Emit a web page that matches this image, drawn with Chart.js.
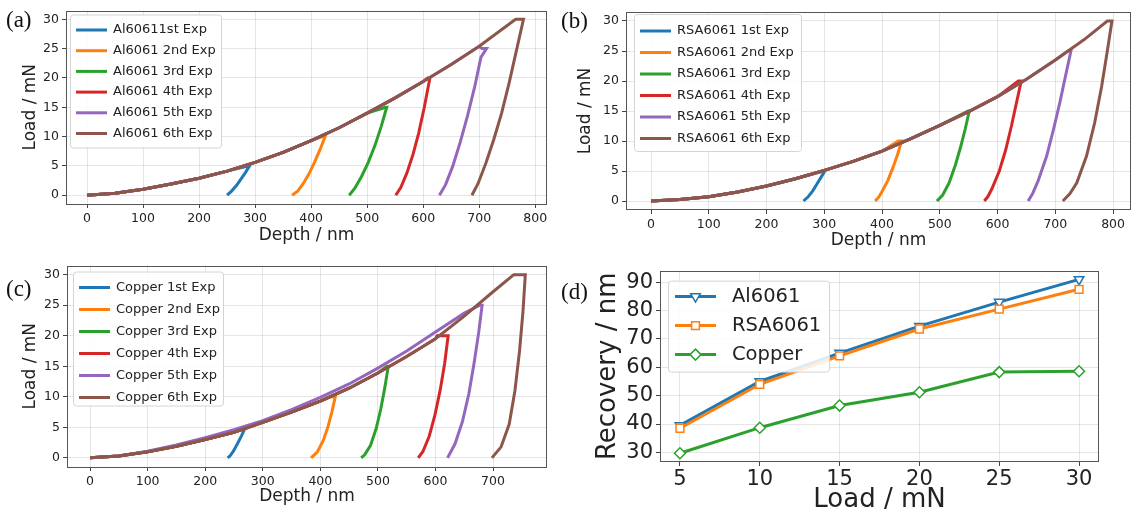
<!DOCTYPE html>
<html lang="en">
<head>
<meta charset="UTF-8" />
<title>Load-depth curves and recovery</title>
<script src="https://cdn.jsdelivr.net/npm/chart.js"></script>
<style>
  body { margin: 0; background: #fff; width: 1136px; height: 516px; position: relative; overflow: hidden; }
  .panel { position: absolute; }
  .tag { position: absolute; font-family: 'Liberation Serif', serif; font-size: 23px; line-height: 1; color: #111; }
</style>
</head>
<body>

<div class="panel" style="left:0;top:0;width:560px;height:255px"><canvas id="chartA"></canvas></div>
<div class="panel" style="left:568px;top:0;width:568px;height:255px"><canvas id="chartB"></canvas></div>
<div class="panel" style="left:0;top:255px;width:560px;height:261px"><canvas id="chartC"></canvas></div>
<div class="panel" style="left:568px;top:255px;width:568px;height:261px"><canvas id="chartD"></canvas></div>

<div class="tag" style="left:6px;top:8px">(a)</div>
<div class="tag" style="left:561px;top:9px">(b)</div>
<div class="tag" style="left:6px;top:277px">(c)</div>
<div class="tag" style="left:561px;top:280px">(d)</div>

<script>
  // (a) Al6061 - shared loading branch, then hold and unloading per experiment
  const aNames = ['Al60611st Exp', 'Al6061 2nd Exp', 'Al6061 3rd Exp', 'Al6061 4th Exp', 'Al6061 5th Exp', 'Al6061 6th Exp'];
  const aLoadDepth = [0, 50, 100, 150, 200, 250, 300, 350, 400, 450, 500, 550, 600, 650, 700, 765];
  const aLoadForce = [0, 0.35, 1.0, 1.9, 2.9, 4.1, 5.6, 7.3, 9.3, 11.5, 14.0, 16.6, 19.4, 22.3, 25.4, 30];
  const aPeak = [5, 10, 15, 20, 25, 30];
  const aHoldStart = [289, 420, 533, 608, 705, 765];
  const aUnloadDepth = [
    [290, 283, 275, 267, 258, 250],
    [425, 416, 406, 396, 386, 376, 366],
    [535, 525, 514, 502, 490, 478, 468],
    [612, 602, 592, 582, 571, 560, 551],
    [713, 703, 692, 679, 666, 653, 640, 629],
    [779, 766, 753, 740, 726, 712, 698, 687]
  ];
  const aUnloadForce = [
    [5, 3.9, 2.8, 1.7, 0.7, 0],
    [10, 7.8, 5.6, 3.6, 2.0, 0.7, 0],
    [15, 11.7, 8.5, 5.6, 3.2, 1.2, 0],
    [20, 15, 10.6, 7, 3.8, 1.3, 0],
    [25, 23.5, 18.5, 13.5, 9, 5, 1.8, 0],
    [30, 24.5, 19, 14, 9.5, 5.5, 2, 0]
  ];

  // (b) RSA6061
  const bNames = ['RSA6061 1st Exp', 'RSA6061 2nd Exp', 'RSA6061 3rd Exp', 'RSA6061 4th Exp', 'RSA6061 5th Exp', 'RSA6061 6th Exp'];
  const bLoadDepth = [0, 50, 100, 150, 200, 250, 300, 350, 400, 450, 500, 550, 600, 650, 700, 750, 790];
  const bLoadForce = [0, 0.25, 0.7, 1.5, 2.5, 3.7, 5.1, 6.6, 8.3, 10.4, 12.6, 14.9, 17.4, 20.3, 23.5, 26.9, 30];
  const bPeak = [5, 10, 15, 20, 25, 30];
  const bHoldStart = [299, 428, 549, 636, 722, 790];
  const bUnloadDepth = [
    [301, 294, 287, 280, 272, 264],
    [434, 427, 419, 410, 400, 394, 388],
    [551, 544, 536, 527, 516, 505, 495],
    [641, 633, 624, 614, 603, 590, 583, 577],
    [727, 718, 708, 697, 685, 670, 661, 653],
    [798, 790, 780, 768, 754, 737, 725, 713]
  ];
  const bUnloadForce = [
    [5, 3.9, 2.8, 1.7, 0.7, 0],
    [10, 7.8, 5.6, 3.4, 1.6, 0.6, 0],
    [15, 12, 9, 6, 3, 1, 0],
    [20, 16.5, 12.5, 8.5, 5, 2, 0.7, 0],
    [25, 21, 16.5, 12, 7.5, 3.3, 1.3, 0],
    [30, 25, 19, 13, 7.5, 3, 1.2, 0]
  ];

  // (c) Copper - the 5th run loads slightly above the others
  const cNames = ['Copper 1st Exp', 'Copper 2nd Exp', 'Copper 3rd Exp', 'Copper 4th Exp', 'Copper 5th Exp', 'Copper 6th Exp'];
  const cLoadDepth = [0, 50, 100, 150, 200, 250, 300, 350, 400, 450, 500, 550, 600, 650, 700, 736];
  const cLoadForce = [0, 0.3, 1.0, 1.9, 3.0, 4.2, 5.8, 7.5, 9.3, 11.4, 13.9, 16.6, 19.5, 23.2, 27.2, 30];
  const cUpperDepth = [0, 50, 100, 150, 200, 250, 300, 350, 400, 450, 500, 550, 600, 650];
  const cUpperForce = [0, 0.3, 1.1, 2.1, 3.3, 4.6, 6.1, 7.9, 9.9, 12.1, 14.7, 17.5, 20.6, 23.7];
  const cPeak = [5, 10, 15, 20, 25, 30];
  const cHoldStart = [268, 418, 516, 603, 677, 736];
  const cUnloadDepth = [
    [270, 263, 256, 249, 243, 239],
    [426, 420, 413, 405, 395, 384],
    [518, 512, 505, 497, 487, 477, 471],
    [622, 616, 608, 599, 589, 578, 570],
    [681, 675, 667, 658, 647, 634, 621],
    [756, 752, 746, 738, 728, 714, 698]
  ];
  const cUnloadForce = [
    [5, 3.6, 2.3, 1.1, 0.3, 0],
    [10, 7.5, 5, 2.8, 1, 0],
    [15, 11.5, 8, 4.8, 2, 0.5, 0],
    [20, 15.5, 11, 7, 3.5, 1, 0],
    [25, 20.5, 15.5, 10.5, 6, 2.3, 0],
    [30, 24, 17.5, 11, 5.5, 1.8, 0]
  ];

  // (d) recovery vs load
  const dLoad = [5, 10, 15, 20, 25, 30];
  const dAl6061 = [39.5, 55.0, 65.0, 74.5, 83.0, 91.0];
  const dRsa6061 = [38.5, 54.0, 64.0, 73.5, 80.5, 87.5];
  const dCopper = [29.7, 38.7, 46.5, 51.2, 58.3, 58.6];

  const tab = ['#1f77b4', '#ff7f0e', '#2ca02c', '#d62728', '#9467bd', '#8c564b'];

  Chart.defaults.font.family = '"DejaVu Sans", sans-serif';
  Chart.defaults.color = '#222';

  // box around the plot area, like matplotlib spines
  const frame = {
    id: 'frame',
    afterDatasetsDraw(chart) {
      const a = chart.chartArea, ctx = chart.ctx;
      ctx.save();
      ctx.strokeStyle = '#555';
      ctx.lineWidth = 1;
      ctx.strokeRect(Math.round(a.left) + 0.5, Math.round(a.top) + 0.5,
        Math.round(a.right - a.left) - 1, Math.round(a.bottom - a.top) - 1);
      ctx.restore();
    }
  };

  // legend box inside the plot area
  const boxLegend = {
    id: 'boxLegend',
    afterDatasetsDraw(chart, args, o) {
      const ctx = chart.ctx, a = chart.chartArea;
      const x = a.left + o.x, y = a.top + o.y;
      ctx.save();
      ctx.fillStyle = 'rgba(255,255,255,0.85)';
      ctx.strokeStyle = '#d4d4d4';
      ctx.lineWidth = 1;
      ctx.beginPath();
      if (ctx.roundRect) ctx.roundRect(x + 0.5, y + 0.5, o.w, o.h, 3); else ctx.rect(x + 0.5, y + 0.5, o.w, o.h);
      ctx.fill();
      ctx.stroke();
      ctx.font = o.size + 'px "DejaVu Sans"';
      ctx.textBaseline = 'middle';
      chart.data.datasets.forEach((ds, i) => {
        const cy = y + o.row0 + i * o.rowH;
        ctx.strokeStyle = ds.borderColor;
        ctx.lineWidth = ds.borderWidth;
        ctx.beginPath();
        ctx.moveTo(x + o.hx, cy);
        ctx.lineTo(x + o.hx + o.hl, cy);
        ctx.stroke();
        if (ds.pointRadius > 0 && Chart.helpers && Chart.helpers.drawPoint) {
          ctx.fillStyle = '#fff';
          ctx.strokeStyle = ds.borderColor;
          ctx.lineWidth = ds.pointBorderWidth;
          Chart.helpers.drawPoint(ctx, {
            pointStyle: ds.pointStyle, radius: ds.pointRadius,
            rotation: ds.pointRotation || 0, borderWidth: ds.pointBorderWidth
          }, x + o.hx + o.hl / 2, cy);
        }
        ctx.fillStyle = '#222';
        ctx.fillText(ds.label, x + o.tx, cy);
      });
      ctx.restore();
    }
  };

  function curveSets(names, loadDepth, loadForce, holdStart, peak, unD, unF, upper) {
    return names.map((name, k) => {
      const ld = upper && upper[k] ? upper[k][0] : loadDepth;
      const lf = upper && upper[k] ? upper[k][1] : loadForce;
      const pts = [];
      ld.forEach((d, i) => { if (d < holdStart[k]) pts.push({ x: d, y: lf[i] }); });
      pts.push({ x: holdStart[k], y: peak[k] });
      unD[k].forEach((d, i) => pts.push({ x: d, y: unF[k][i] }));
      return {
        label: name, data: pts, showLine: true, fill: false,
        borderColor: tab[k], backgroundColor: tab[k], borderWidth: 3,
        pointRadius: 0, order: 6 - k
      };
    });
  }

  function axes(o) {
    const grid = { color: 'rgba(0,0,0,0.1)', tickColor: '#444', tickLength: 4 };
    return {
      x: {
        type: 'linear', min: o.xmin, max: o.xmax,
        afterFit: s => { s.height = o.xh; },
        ticks: { stepSize: o.xstep, includeBounds: false, padding: o.xpad, font: { size: o.tick } },
        grid: grid, border: { display: false },
        title: { display: true, text: o.xt, font: { size: o.title }, padding: { top: 0, bottom: o.xtp } }
      },
      y: {
        type: 'linear', min: o.ymin, max: o.ymax,
        afterFit: s => { s.width = o.yw; },
        ticks: { stepSize: o.ystep, includeBounds: false, padding: 3, font: { size: o.tick } },
        grid: grid, border: { display: false },
        title: { display: true, text: o.yt, font: { size: o.title }, padding: { top: o.ytp, bottom: 0 } }
      }
    };
  }

  function makeChart(id, datasets, ax, pad, legend) {
    new Chart(document.getElementById(id), {
      type: 'scatter',
      data: { datasets: datasets },
      options: {
        responsive: true, maintainAspectRatio: false, animation: false,
        layout: { padding: pad },
        plugins: { legend: { display: false }, tooltip: { enabled: false }, boxLegend: legend },
        scales: axes(ax)
      },
      plugins: [frame, boxLegend]
    });
  }

  const smallLegend = { size: 13, hx: 6, hl: 31, tx: 43, row0: 15.5, rowH: 20.7 };

  makeChart('chartA',
    curveSets(aNames, aLoadDepth, aLoadForce, aHoldStart, aPeak, aUnloadDepth, aUnloadForce),
    { xmin: -37.5, xmax: 821, xstep: 100, ymin: -1.5, ymax: 31.5, ystep: 5, xh: 51, yw: 66,
      tick: 12.5, title: 17, xt: 'Depth / nm', yt: 'Load / mN', xtp: 8.8, ytp: 20, xpad: 3 },
    { left: 0, top: 9, right: 13, bottom: 0 },
    Object.assign({ x: 4, y: 4, w: 151, h: 133 }, smallLegend));

  makeChart('chartB',
    curveSets(bNames, bLoadDepth, bLoadForce, bHoldStart, bPeak, bUnloadDepth, bUnloadForce),
    { xmin: -43.3, xmax: 831, xstep: 100, ymin: -1.5, ymax: 31.5, ystep: 5, xh: 45, yw: 58,
      tick: 12.5, title: 17, xt: 'Depth / nm', yt: 'Load / mN', xtp: 3.8, ytp: 7.8, xpad: 3 },
    { left: 0, top: 12, right: 5, bottom: 0 },
    Object.assign({ x: 8, y: 2, w: 167, h: 137 }, smallLegend, { row0: 17, rowH: 21.5 }));

  makeChart('chartC',
    curveSets(cNames, cLoadDepth, cLoadForce, cHoldStart, cPeak, cUnloadDepth, cUnloadForce,
      { 4: [cUpperDepth, cUpperForce] }),
    { xmin: -40, xmax: 793.7, xstep: 100, ymin: -1.5, ymax: 31.5, ystep: 5, xh: 49, yw: 67,
      tick: 12.5, title: 17, xt: 'Depth / nm', yt: 'Load / mN', xtp: 8.8, ytp: 20, xpad: 3 },
    { left: 0, top: 10, right: 13, bottom: 0 },
    Object.assign({ x: 6, y: 6, w: 150, h: 134 }, smallLegend, { row0: 16, rowH: 22 }));

  const dStyles = [['triangle', 180], ['rect', 0], ['rectRot', 0]];
  const dSeries = [['Al6061', dAl6061], ['RSA6061', dRsa6061], ['Copper', dCopper]];
  makeChart('chartD',
    dSeries.map((s, k) => ({
      label: s[0], data: dLoad.map((v, i) => ({ x: v, y: s[1][i] })), showLine: true,
      borderColor: tab[k], backgroundColor: tab[k], borderWidth: 3,
      pointStyle: dStyles[k][0], pointRotation: dStyles[k][1], pointRadius: 5.5,
      pointBackgroundColor: '#fff', pointBorderColor: tab[k], pointBorderWidth: 1.5,
      order: 3 - k
    })),
    { xmin: 3.75, xmax: 31.25, xstep: 5, ymin: 26.6, ymax: 94.1, ystep: 10, xh: 54, yw: 92,
      tick: 21, title: 26, xt: 'Load / mN', yt: 'Recovery / nm', xtp: 0, ytp: 24.4, xpad: 1 },
    { left: 0, top: 12, right: 37, bottom: 0 },
    { x: 8, y: 10, w: 161, h: 91, size: 19.5, hx: 7, hl: 41, tx: 64, row0: 16, rowH: 29 });
</script>

</body>
</html>
